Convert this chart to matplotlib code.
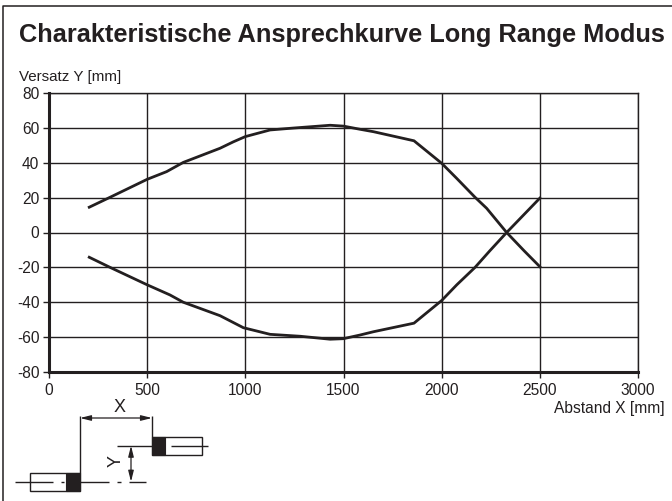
import matplotlib
matplotlib.use('Agg')
from matplotlib import pyplot as plt
from matplotlib.patches import Rectangle

plt.rcParams['font.family'] = ['Liberation Sans', 'DejaVu Sans']
plt.rcParams['axes.unicode_minus'] = False

title = 'Charakteristische Ansprechkurve Long Range Modus'
xticks = [0, 500, 1000, 1500, 2000, 2500, 3000]
yticks = [-80, -60, -40, -20, 0, 20, 40, 60, 80]

upper_x = [205, 311, 500, 599, 684, 871, 939, 1000, 1126, 1245, 1432, 1500, 1584, 1653, 1859, 2000, 2077, 2170, 2229, 2331, 2420, 2500]
upper_y = [14.5, 20.2, 30.5, 34.9, 40.2, 48.3, 52, 55, 58.8, 59.9, 61.5, 61, 59.2, 57.8, 52.6, 39.7, 31, 20.2, 13.9, 0, -10.5, -19.6]
lower_x = [205, 311, 500, 616, 684, 871, 990, 1126, 1279, 1432, 1499, 1584, 1653, 1859, 2000, 2077, 2170, 2246, 2331, 2500]
lower_y = [-14.2, -20, -30, -35.8, -40, -47.7, -54.6, -58.4, -59.5, -61.2, -60.9, -58.8, -56.9, -52, -39, -30, -20, -10.4, 0, 19.7]

ink = '#231f20'
W, H = 672, 501

fig = plt.figure(figsize=(W/100, H/100), dpi=100)
ax = fig.add_axes([49/W, 1-372/H, (638-49)/W, (372-93)/H])
ax.set_xlim(0, 3000)
ax.set_ylim(-80, 80)
ax.set_xticks(xticks)
ax.set_yticks(yticks)
ax.grid(True, color=ink, lw=1.0)
ax.set_axisbelow(True)
ax.tick_params(axis='both', length=4, width=1, color=ink, labelcolor=ink, labelsize=11.2, pad=3)
ax.tick_params(axis='x', pad=4)
for s in ax.spines.values():
    s.set_color(ink)
    s.set_linewidth(1.0)
ax.spines['left'].set_linewidth(2.2)
ax.spines['bottom'].set_linewidth(2.2)

ax.plot(upper_x, upper_y, color=ink, lw=2.0)
ax.plot(lower_x, lower_y, color=ink, lw=2.0)

# overlay in pixel coordinates for frame, texts and the sensor sketch
ov = fig.add_axes([0, 0, 1, 1], zorder=5)
ov.set_xlim(0, W)
ov.set_ylim(H, 0)
ov.axis('off')

ov.plot([2.5, 2.5, W], [H, 6, 6], color=ink, lw=1.1)
ov.text(19, 34.5, title, fontsize=18.3, fontweight='bold', color=ink, va='center', ha='left')
ov.text(19, 77, 'Versatz Y [mm]', fontsize=10.9, color=ink, va='center', ha='left')
ov.text(665, 408.5, 'Abstand X [mm]', fontsize=11.2, color=ink, va='center', ha='right')


def line(xs, ys, lw=1.0):
    ov.plot(xs, ys, color=ink, lw=lw, solid_capstyle='butt')


# left sensor
ov.add_patch(Rectangle((29.5, 472.7), 50.5, 18, fc='white', ec=ink, lw=1.0))
ov.add_patch(Rectangle((66, 472.7), 14, 18, fc=ink, ec=ink, lw=0.8))
line([15, 52.7], [481.7, 481.7])
line([60.7, 64], [481.7, 481.7])
line([80, 109], [481.7, 481.7])
line([117, 120.7], [481.7, 481.7])
line([128.7, 145.7], [481.7, 481.7])

# right sensor
ov.add_patch(Rectangle((152, 436.7), 50, 18.3, fc='white', ec=ink, lw=1.0))
ov.add_patch(Rectangle((152, 436.7), 13, 18.3, fc=ink, ec=ink, lw=0.8))
line([117, 152], [445.7, 445.7])
line([170.7, 208], [445.7, 445.7])

# dimensions
arrow = dict(arrowstyle='<|-|>,head_length=0.8,head_width=0.2', color=ink, lw=0.9,
             shrinkA=0, shrinkB=0, mutation_scale=8)
line([79.5, 79.5], [416, 473])
line([152, 152], [416, 437])
ov.annotate('', xy=(80, 418), xytext=(152, 418), arrowprops=arrow)
ov.annotate('', xy=(131, 445.7), xytext=(131, 481.7), arrowprops=arrow)
ov.text(119.5, 407, 'X', fontsize=13, color=ink, ha='center', va='center')
ov.text(116, 461, 'Y', fontsize=13, color=ink, ha='center', va='center', rotation=90)

fig.savefig('out.png', dpi=100)
